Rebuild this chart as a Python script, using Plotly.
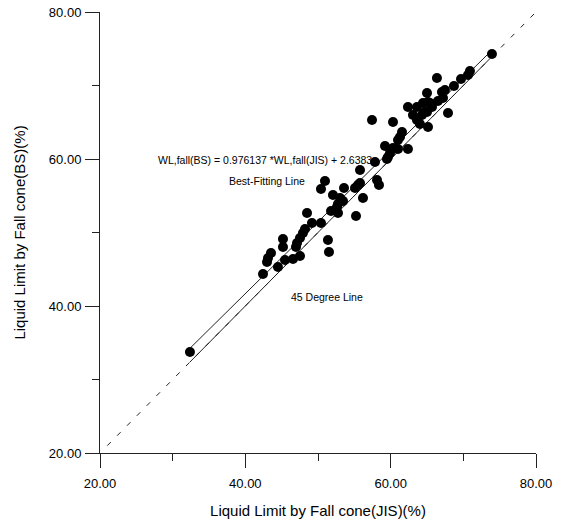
import plotly.graph_objects as go

# Liquid limit by fall cone: JIS (x) vs BS (y)
x_jis = [32.38, 42.43, 44.49, 43.12, 43.53, 42.98, 45.18, 45.18, 45.46, 46.56,
         47.52, 47.11, 47.52, 47.93, 48.21, 49.17, 50.41, 51.37, 51.51, 48.49,
         46.97, 50.41, 50.96, 52.06, 53.58, 55.09, 55.50, 53.03, 53.44, 52.75,
         52.61, 51.79, 52.75, 55.23, 57.43, 60.32, 61.56, 61.28, 61.01, 59.22,
         60.32, 61.01, 62.38, 59.91, 59.63, 59.49, 57.84, 55.78, 58.12, 58.39,
         55.78, 56.19, 62.38, 63.62, 64.45, 65.14, 65.69, 65.00, 64.31, 63.07,
         63.62, 64.03, 65.14, 67.89, 73.94, 70.91, 70.64, 69.68, 68.71, 66.37,
         67.47, 67.06, 65.00, 67.20, 66.51, 65.41, 64.72]
y_bs = [33.74, 44.35, 45.31, 46.53, 47.21, 45.99, 49.12, 48.03, 46.26, 46.39,
        46.80, 48.57, 49.25, 49.93, 50.48, 51.29, 51.29, 48.98, 47.35, 52.65,
        48.03, 55.92, 57.01, 55.10, 56.05, 56.05, 56.46, 54.69, 54.29, 53.88,
        53.47, 52.93, 52.65, 52.24, 65.31, 65.03, 63.67, 62.99, 62.59, 61.77,
        61.50, 61.36, 61.36, 60.82, 60.27, 60.00, 59.59, 58.50, 57.14, 56.46,
        56.73, 54.69, 67.07, 67.07, 67.62, 67.76, 67.07, 66.39, 65.99, 65.99,
        65.31, 64.76, 64.35, 66.26, 74.29, 71.97, 71.43, 70.88, 69.93, 71.02,
        69.39, 69.12, 68.98, 68.30, 67.89, 67.62, 66.39]

slope = 0.976137
intercept = 2.6383
diag_range = [21.0, 80.0]
tick_vals = [20, 40, 60, 80]
tick_text = ["20.00", "40.00", "60.00", "80.00"]

FONT = "Liberation Sans, Arial, sans-serif"

xmin, xmax = min(x_jis), max(x_jis)
fit_x = [xmin, xmax]
fit_y = [slope * v + intercept for v in fit_x]

fig = go.Figure()
# 45 degree line, dashed over full range
fig.add_trace(go.Scatter(x=diag_range, y=diag_range, mode="lines",
                         line=dict(color="#222", width=1, dash="5px,9px"),
                         hoverinfo="skip", showlegend=False))
# 45 degree line, solid within data range
fig.add_trace(go.Scatter(x=fit_x, y=fit_x, mode="lines",
                         line=dict(color="#222", width=1),
                         hoverinfo="skip", showlegend=False))
# best fitting line
fig.add_trace(go.Scatter(x=fit_x, y=fit_y, mode="lines",
                         line=dict(color="#222", width=1),
                         hoverinfo="skip", showlegend=False))
fig.add_trace(go.Scatter(x=x_jis, y=y_bs, mode="markers",
                         marker=dict(color="black", size=10),
                         showlegend=False))

ann_font = dict(family=FONT, size=10.5, color="black")
fig.add_annotation(x=42.7, y=59.9, xref="x", yref="y", showarrow=False,
                   text="WL,fall(BS) = 0.976137 *WL,fall(JIS) + 2.6383", font=ann_font)
fig.add_annotation(x=43.0, y=57.0, xref="x", yref="y", showarrow=False,
                   text="Best-Fitting Line", font=ann_font)
fig.add_annotation(x=51.2, y=41.2, xref="x", yref="y", showarrow=False,
                   text="45 Degree Line", font=ann_font)

axis_common = dict(
    range=[20, 80], tickvals=tick_vals, ticktext=tick_text,
    ticks="outside", ticklen=14, tickwidth=1, tickcolor="#222",
    showline=True, linecolor="#222", linewidth=1,
    showgrid=False, zeroline=False, mirror=False, automargin=False,
    tickfont=dict(family=FONT, size=13, color="black"),
    minor=dict(tickvals=[30, 50, 70], ticks="outside", ticklen=7,
               tickcolor="#222", tickwidth=1, showgrid=False),
)

fig.update_xaxes(**axis_common, ticklabelstandoff=4,
                 title=dict(text="Liquid Limit by Fall cone(JIS)(%)",
                            font=dict(family=FONT, size=15, color="black"),
                            standoff=15))
fig.update_yaxes(**axis_common, ticklabelstandoff=1,
                 title=dict(text="Liquid Limit by Fall cone(BS)(%)",
                            font=dict(family=FONT, size=15, color="black"),
                            standoff=19))

fig.update_layout(
    width=566, height=523,
    margin=dict(l=100, r=30, t=12, b=70),
    paper_bgcolor="white", plot_bgcolor="white",
    showlegend=False,
)

fig.write_html("out.html")
